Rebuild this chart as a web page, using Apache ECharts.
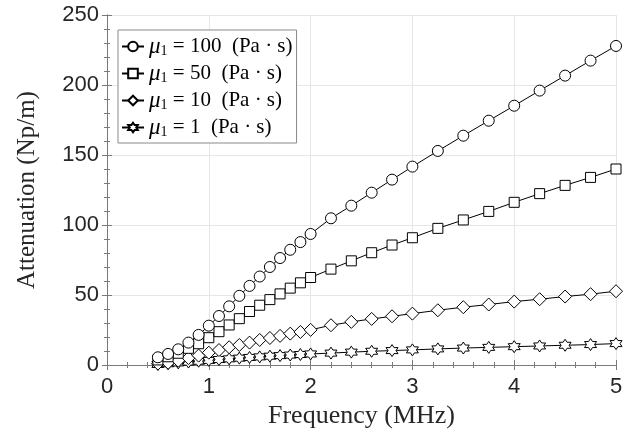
<!DOCTYPE html>
<html>
<head>
<meta charset="utf-8">
<script src="https://cdn.jsdelivr.net/npm/echarts@6/dist/echarts.min.js"></script>
<style>html,body{margin:0;padding:0;background:#fff}#c{width:633px;height:438px}</style>
</head>
<body>
<div id="c"></div>
<script>
var freq = [0.5,0.6,0.7,0.8,0.9,1.0,1.1,1.2,1.3,1.4,1.5,1.6,1.7,1.8,1.9,2.0,2.2,2.4,2.6,2.8,3.0,3.25,3.5,3.75,4.0,4.25,4.5,4.75,5.0];
var mu100 = [5.5,7.9,11.2,16.0,21.5,28.1,35.0,41.9,49.4,56.5,63.2,70.0,76.4,82.3,87.8,93.6,104.8,113.8,123.1,132.4,141.7,152.9,163.8,174.5,185.2,196.0,206.7,217.4,227.9];
var mu50 = [3.6,5.9,8.4,11.9,15.2,19.5,23.8,28.6,33.1,38.2,42.7,46.7,50.8,54.9,58.7,62.5,68.5,74.4,80.2,85.7,90.9,97.6,103.6,109.7,116.2,122.4,128.3,134.0,140.0];
var mu10 = [1.0,1.6,3.1,5.0,6.7,8.8,10.7,12.7,14.3,16.0,17.9,19.3,20.8,22.4,23.6,25.1,28.4,30.8,32.9,34.8,36.7,39.1,41.3,43.2,45.3,47.0,48.9,50.6,52.7];
var mu1 = [0.4,0.9,1.5,2.1,2.7,3.3,3.9,4.4,4.9,5.4,5.8,6.3,6.7,7.1,7.5,7.9,8.5,9.2,9.8,10.3,10.8,11.5,12.1,12.6,13.1,13.6,14.1,14.6,15.3];
var muValues = ['100','50','10','1'];
var xTicks = [0,1,2,3,4,5];
var yTicks = [0,50,100,150,200,250];

var star = 'path://M0,-10 L2.887,-5 L8.66,-5 L5.774,0 L8.66,5 L2.887,5 L0,10 L-2.887,5 L-8.66,5 L-5.774,0 L-8.66,-5 L-2.887,-5 Z';
var symbols = ['circle','rect','diamond',star];
var sizes = [11,10,13,12];
var allData = [mu100, mu50, mu10, mu1];

function pairs(ys){ return freq.map(function(f,i){ return [f, ys[i]]; }); }

var series = allData.map(function(ys, k){
  return {
    name: 'mu' + muValues[k],
    type: 'line',
    data: pairs(ys),
    symbol: symbols[k],
    symbolSize: sizes[k],
    showAllSymbol: true,
    lineStyle: {color: '#000', width: 1},
    itemStyle: {color: '#fff', borderColor: '#000', borderWidth: 1},
    emphasis: {disabled: true},
    animation: false,
    z: 5 - k
  };
});

var axisCommon = {
  axisLine: {show: true, lineStyle: {color: '#7a7a7a', width: 1}},
  axisTick: {show: true, inside: true, length: 5, lineStyle: {color: '#7a7a7a'}},
  minorTick: {show: true, splitNumber: 5, length: 3, lineStyle: {color: '#7a7a7a'}}
};

var chart = echarts.init(document.getElementById('c'), null, {renderer: 'canvas'});
chart.setOption({
  backgroundColor: '#fff',
  animation: false,
  grid: {left: 107, right: 17, top: 15, bottom: 73, show: false},
  legend: {
    orient: 'vertical',
    left: 118,
    top: 30,
    data: series.map(function(s){ return s.name; }),
    backgroundColor: '#fff',
    borderColor: '#8a8a8a',
    borderWidth: 1,
    padding: [5, 4, 4, 3],
    itemGap: 4,
    itemWidth: 22,
    itemHeight: 12,
    selectedMode: false,
    formatter: function(name){
      var v = name.replace('mu','');
      return '{i|μ}{s|1}{t| = ' + v + '  (Pa · s)}';
    },
    textStyle: {
      color: '#000',
      rich: {
        i: {fontFamily: 'Liberation Serif', fontStyle: 'italic', fontSize: 23, color: '#000'},
        s: {fontFamily: 'Liberation Serif', fontSize: 14, color: '#000', verticalAlign: 'bottom', padding: [9,0,0,0]},
        t: {fontFamily: 'Liberation Serif', fontSize: 21, color: '#000'}
      }
    }
  },
  xAxis: [
    Object.assign({
      type: 'value', min: 0, max: 5, interval: 1,
      name: 'Frequency (MHz)', nameLocation: 'middle', nameGap: 38,
      nameTextStyle: {fontFamily: 'Liberation Serif', fontSize: 26, color: '#262626'},
      axisLabel: {fontFamily: 'Liberation Sans', fontSize: 22, color: '#262626', margin: 11,
        formatter: function(v){ return xTicks.indexOf(v) >= 0 ? String(v) : ''; }},
      splitLine: {show: true, lineStyle: {color: '#e6e6e6', width: 1}}
    }, axisCommon),
    Object.assign({
      type: 'value', min: 0, max: 5, interval: 1, position: 'top',
      axisLabel: {show: false}, splitLine: {show: false}
    }, axisCommon)
  ],
  yAxis: [
    Object.assign({
      type: 'value', min: 0, max: 250, interval: 50,
      name: 'Attenuation (Np/m)', nameLocation: 'middle', nameGap: 67,
      nameTextStyle: {fontFamily: 'Liberation Serif', fontSize: 25, color: '#262626'},
      axisLabel: {fontFamily: 'Liberation Sans', fontSize: 22, color: '#262626', margin: 8,
        formatter: function(v){ return yTicks.indexOf(v) >= 0 ? String(v) : ''; }},
      splitLine: {show: true, lineStyle: {color: '#e6e6e6', width: 1}}
    }, axisCommon),
    Object.assign({
      type: 'value', min: 0, max: 250, interval: 50, position: 'right',
      axisLabel: {show: false}, splitLine: {show: false}
    }, axisCommon)
  ],
  series: series
});
</script>
</body>
</html>
